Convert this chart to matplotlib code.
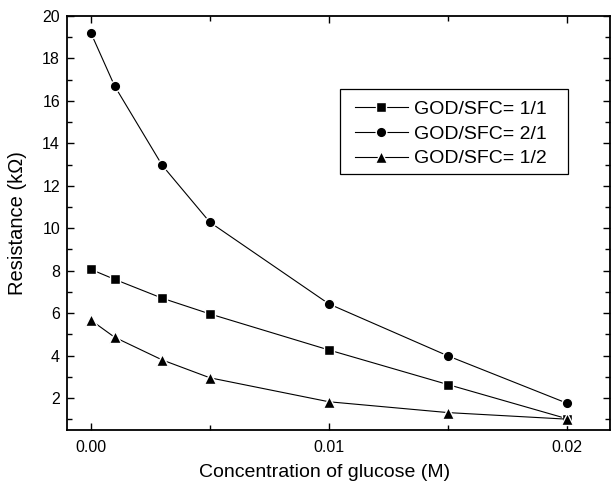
import matplotlib
matplotlib.use("Agg")
import matplotlib.pyplot as plt
from matplotlib.ticker import FixedLocator
from matplotlib.patches import Rectangle

plt.rcParams['font.family'] = ['Liberation Sans', 'DejaVu Sans']

conc = [0.0, 0.001, 0.003, 0.005, 0.01, 0.015, 0.02]
r_11 = [8.06, 7.59, 6.70, 5.96, 4.26, 2.63, 1.02]
r_21 = [19.21, 16.70, 12.96, 10.28, 6.43, 3.98, 1.75]
r_12 = [5.67, 4.86, 3.79, 2.95, 1.82, 1.31, 1.00]
labels = ['GOD/SFC= 1/1', 'GOD/SFC= 2/1', 'GOD/SFC= 1/2']
x_ticks = [0.00, 0.01, 0.02]
x_ticklabels = ['0.00', '0.01', '0.02']

W, H = 614, 483
fig = plt.figure(figsize=(W/100, H/100), dpi=100)
ax = fig.add_axes([67/W, 1-430/H, (610-67)/W, (430-16)/H])

common = dict(color='black', linewidth=0.8, markeredgecolor='white', markeredgewidth=1.0)
ax.plot(conc, r_11, marker='s', markersize=7.0, label=labels[0], **common)
ax.plot(conc, r_21, marker='o', markersize=7.6, label=labels[1], **common)
ax.plot(conc, r_12, marker='^', markersize=8.5, label=labels[2], **common)

ax.set_xlim(-0.001, 0.0218)
ax.set_ylim(0.49, 20)
ax.xaxis.set_major_locator(FixedLocator(x_ticks))
ax.set_xticklabels(x_ticklabels)
ax.xaxis.set_minor_locator(FixedLocator([0.005, 0.015]))
ax.yaxis.set_major_locator(FixedLocator(list(range(2, 21, 2))))
ax.yaxis.set_minor_locator(FixedLocator(list(range(1, 20, 2))))

ax.tick_params(which='both', direction='in', top=True, right=True, labelsize=11.5, width=1.0)
ax.tick_params(which='major', length=5)
ax.tick_params(which='minor', length=3.5)
ax.tick_params(axis='x', pad=7)
ax.tick_params(axis='y', pad=5)
for s in ax.spines.values():
    s.set_linewidth(1.3)

ax.set_xlabel('Concentration of glucose (M)', fontsize=14)
ax.set_ylabel('Resistance (k\u03a9)', fontsize=14.5)
ax.xaxis.set_label_coords(0.475, -0.083)
ax.yaxis.set_label_coords(-0.074, 0.5)

# legend frame drawn separately
ax.add_patch(Rectangle((340/W, 1-174/H), (568-340)/W, (174-89)/H,
                       transform=fig.transFigure, facecolor='white',
                       edgecolor='black', linewidth=0.9, zorder=4, clip_on=False))
leg = ax.legend(loc='upper left', bbox_to_anchor=(355/W, 1-100.5/H),
                bbox_transform=fig.transFigure, fontsize=14, frameon=False,
                borderaxespad=0, borderpad=0, handlelength=2.7,
                handletextpad=0.35, labelspacing=0.36)
leg.set_zorder(5)

fig.savefig('out.png', dpi=100)
